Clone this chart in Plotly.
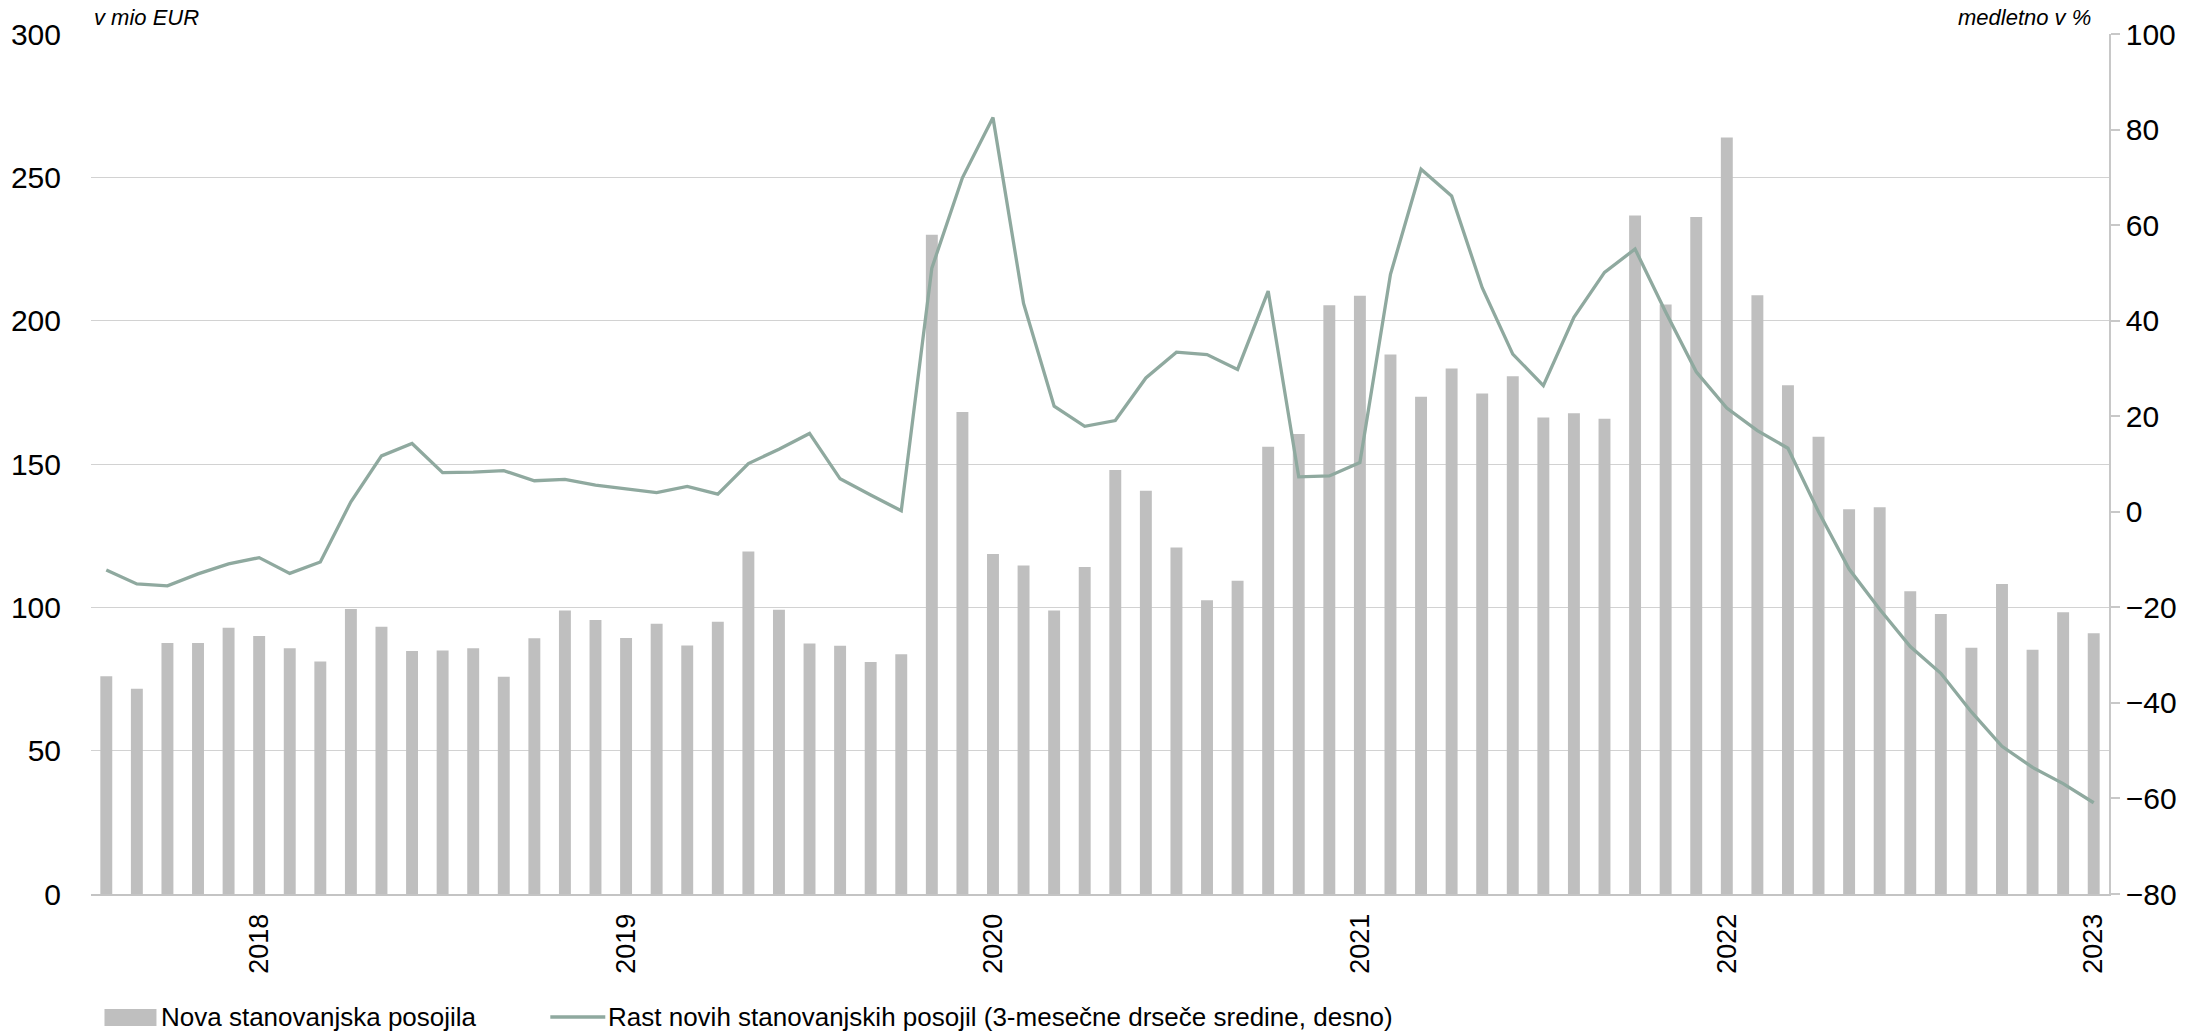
import plotly.graph_objects as go

months = [f"{y}-{m:02d}" for y in range(2017, 2024) for m in range(1, 13)][7:73]

new_loans = [76.0, 71.6, 87.6, 87.6, 92.9, 90.0, 85.7, 81.1, 99.4, 93.2,
             84.8, 84.9, 85.7, 75.8, 89.2, 98.9, 95.6, 89.3, 94.3, 86.7,
             95.0, 119.5, 99.2, 87.4, 86.6, 80.9, 83.6, 230.0, 168.1, 118.6,
             114.6, 98.9, 114.1, 147.9, 140.7, 120.9, 102.5, 109.3, 156.0, 160.5,
             205.4, 208.7, 188.2, 173.5, 183.3, 174.6, 180.6, 166.2, 167.7, 165.8,
             236.7, 205.6, 236.2, 263.9, 208.9, 177.5, 159.5, 134.2, 134.9, 105.6,
             97.7, 85.9, 108.1, 85.2, 98.3, 91.0]

growth = [-12.2, -15.1, -15.5, -13.0, -10.9, -9.6, -12.9, -10.5, 2.1, 11.7,
          14.3, 8.2, 8.3, 8.6, 6.5, 6.8, 5.6, 4.8, 4.0, 5.3,
          3.7, 10.1, 13.1, 16.4, 6.9, 3.5, 0.2, 51.0, 69.9, 82.5,
          43.6, 22.1, 17.9, 19.1, 28.0, 33.4, 32.9, 29.8, 46.2, 7.3,
          7.5, 10.3, 49.7, 71.7, 66.1, 46.9, 33.0, 26.4, 40.7, 50.1,
          55.0, 41.8, 29.3, 21.7, 17.0, 13.3, 0.0, -12.0, -20.4, -28.2,
          -33.8, -41.9, -49.1, -53.5, -56.9, -60.9]

year_ticks = ["2018-01", "2019-01", "2020-01", "2021-01", "2022-01", "2023-01"]
year_labels = ["2018", "2019", "2020", "2021", "2022", "2023"]

left_ticks = [0, 50, 100, 150, 200, 250, 300]
right_ticks = [-80, -60, -40, -20, 0, 20, 40, 60, 80, 100]

bar_name = "Nova stanovanjska posojila"
line_name = "Rast novih stanovanjskih posojil (3-mesečne drseče sredine, desno)"

BAR_COLOR = "#bfbfbf"
LINE_COLOR = "#8fa99f"
FONT = "Liberation Sans, Arial, sans-serif"

W, H = 2198, 1033
ML, MR, MT, MB = 90.5, 88.7, 34, 139
PW = W - ML - MR
PH = H - MT - MB


def px_x(p):
    return (p - ML) / PW


def px_y(p):
    return (H - MB - p) / PH


fig = go.Figure()
fig.add_trace(go.Bar(
    x=months, y=new_loans, name=bar_name,
    marker=dict(color=BAR_COLOR, line=dict(width=0)),
    yaxis="y", showlegend=False,
))
fig.add_trace(go.Scatter(
    x=months, y=growth, name=line_name,
    mode="lines", line=dict(color=LINE_COLOR, width=3.3),
    yaxis="y2", showlegend=False,
))

# legend drawn as swatches + text below the plot
shapes = [
    dict(type="rect", xref="paper", yref="paper",
         x0=px_x(104), x1=px_x(156), y0=px_y(1026), y1=px_y(1009),
         fillcolor=BAR_COLOR, line=dict(width=0)),
    dict(type="line", xref="paper", yref="paper",
         x0=px_x(550), x1=px_x(605), y0=px_y(1017), y1=px_y(1017),
         line=dict(color=LINE_COLOR, width=3.5)),
]
annotations = [
    dict(text=bar_name, xref="paper", yref="paper", x=px_x(159), y=px_y(1017),
         xanchor="left", yanchor="middle", showarrow=False,
         font=dict(family=FONT, size=26, color="#000000")),
    dict(text=line_name, xref="paper", yref="paper", x=px_x(606), y=px_y(1017),
         xanchor="left", yanchor="middle", showarrow=False,
         font=dict(family=FONT, size=26, color="#000000")),
    dict(text="<i>v mio EUR</i>", xref="paper", yref="paper", x=0.0, y=1.0,
         xanchor="left", yanchor="bottom", showarrow=False, xshift=1, yshift=2,
         font=dict(family=FONT, size=22, color="#000000")),
    dict(text="<i>medletno v %</i>", xref="paper", yref="paper", x=1.0, y=1.0,
         xanchor="right", yanchor="bottom", showarrow=False, xshift=-16, yshift=2,
         font=dict(family=FONT, size=22, color="#000000")),
]

fig.update_layout(
    width=W, height=H, autosize=False,
    margin=dict(l=ML, r=MR, t=MT, b=MB, pad=0, autoexpand=False),
    paper_bgcolor="white", plot_bgcolor="white",
    bargap=0.61,
    font=dict(family=FONT, size=30, color="#000000"),
    showlegend=False,
    xaxis=dict(
        type="category", range=[-0.5, 65.5],
        tickmode="array", tickvals=year_ticks, ticktext=year_labels,
        tickangle=-90, tickfont=dict(family=FONT, size=27),
        ticks="outside", ticklen=7, tickcolor="rgba(0,0,0,0)",
        showgrid=False, showline=True, linecolor="#c4c4c4", linewidth=2,
        zeroline=False, automargin=False,
    ),
    yaxis=dict(
        range=[0, 300], tickmode="array", tickvals=left_ticks,
        showgrid=True, gridcolor="#d2d2d2", gridwidth=1.4,
        zeroline=False, showline=False,
        ticks="outside", ticklen=23, tickcolor="rgba(0,0,0,0)",
        tickfont=dict(family=FONT, size=30), automargin=False,
    ),
    yaxis2=dict(
        range=[-80, 100], tickmode="array", tickvals=right_ticks,
        overlaying="y", side="right", showgrid=False, zeroline=False,
        showline=True, linecolor="#c8c8c8", linewidth=1.5,
        ticks="outside", ticklen=9, tickcolor="#c8c8c8", tickwidth=1.5,
        tickfont=dict(family=FONT, size=30), automargin=False,
    ),
    shapes=shapes,
    annotations=annotations,
)

fig.write_html("out.html", config={"displayModeBar": False},
               post_script="document.body.style.margin='0';document.body.style.overflow='hidden';")
